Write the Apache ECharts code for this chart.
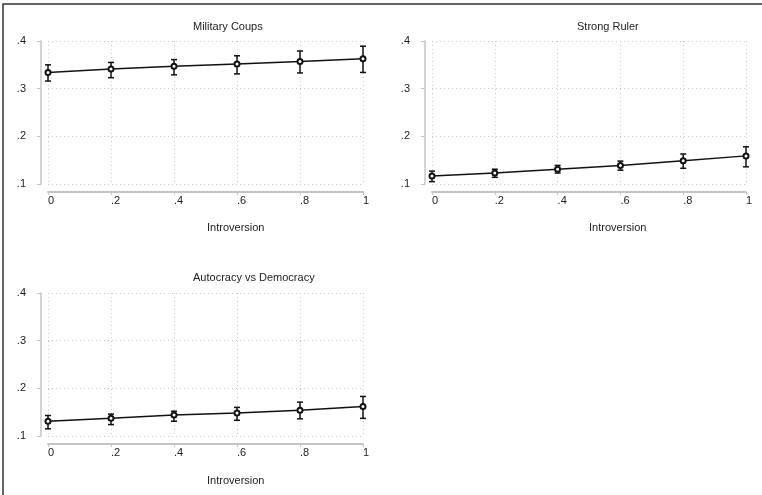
<!DOCTYPE html>
<html>
<head>
<meta charset="utf-8">
<script src="https://cdn.jsdelivr.net/npm/echarts@6/dist/echarts.min.js"></script>
<style>
    html, body { margin: 0; padding: 0; background: #fff; }
    #chart { width: 762px; height: 495px; }
</style>
</head>
<body>
<div id="chart"></div>
<script>
    const xValues = [0, 0.2, 0.4, 0.6, 0.8, 1]
    const xTickLabels = ['0', '.2', '.4', '.6', '.8', '1']
    const yTickLabels = ['.1', '.2', '.3', '.4']

    const panelTitles = ['Military Coups', 'Strong Ruler', 'Autocracy vs Democracy']

    // predicted value, lower and upper bound of the interval
    const coupsMean = [0.334, 0.341, 0.347, 0.352, 0.357, 0.363]
    const coupsLow = [0.316, 0.323, 0.329, 0.331, 0.333, 0.334]
    const coupsHigh = [0.350, 0.355, 0.361, 0.369, 0.379, 0.389]

    const rulerMean = [0.117, 0.123, 0.131, 0.139, 0.149, 0.159]
    const rulerLow = [0.105, 0.114, 0.123, 0.129, 0.133, 0.136]
    const rulerHigh = [0.127, 0.131, 0.139, 0.148, 0.163, 0.178]

    const autocMean = [0.131, 0.137, 0.144, 0.148, 0.154, 0.162]
    const autocLow = [0.115, 0.124, 0.131, 0.133, 0.136, 0.137]
    const autocHigh = [0.143, 0.146, 0.152, 0.160, 0.171, 0.183]

    const panels = [
        { mean: coupsMean, low: coupsLow, high: coupsHigh },
        { mean: rulerMean, low: rulerLow, high: rulerHigh },
        { mean: autocMean, low: autocLow, high: autocHigh }
    ]

    const font = 'Liberation Sans, Arial, sans-serif'
    const grids = [
        { left: 48, top: 41, width: 315, height: 143 },
        { left: 432, top: 41, width: 314, height: 143 },
        { left: 48, top: 293, width: 315, height: 143 }
    ]
    const titlePos = [[193, 21], [577, 21], [193, 272]]
    const namePos = [[207, 222], [589, 222], [207, 475]]

    function errorBar(params, api) {
        const top = api.coord([api.value(0), api.value(2)])
        const bot = api.coord([api.value(0), api.value(1)])
        const cap = 3
        const style = { stroke: '#111', lineWidth: 1.5 }
        return {
            type: 'group',
            children: [
                { type: 'line', shape: { x1: top[0], y1: top[1], x2: bot[0], y2: bot[1] }, style },
                { type: 'line', shape: { x1: top[0] - cap, y1: top[1], x2: top[0] + cap, y2: top[1] }, style },
                { type: 'line', shape: { x1: bot[0] - cap, y1: bot[1], x2: bot[0] + cap, y2: bot[1] }, style }
            ]
        }
    }

    const dotted = { show: true, lineStyle: { type: [1, 3], color: '#c8c8c8', width: 1 } }

    const option = {
        animation: false,
        textStyle: { fontFamily: font },
        title: [],
        grid: grids,
        xAxis: [],
        yAxis: [],
        series: [],
        graphic: [
            {
                type: 'rect',
                shape: { x: 3, y: 4, width: 900, height: 600 },
                style: { fill: 'none', stroke: '#333', lineWidth: 1.5 }
            }
        ]
    }

    panels.forEach((p, i) => {
        option.title.push({
            text: panelTitles[i],
            left: titlePos[i][0],
            top: titlePos[i][1],
            padding: 0,
            textStyle: { fontFamily: font, fontSize: 11, fontWeight: 'normal', color: '#222' }
        })
        option.title.push({
            text: 'Introversion',
            left: namePos[i][0],
            top: namePos[i][1],
            padding: 0,
            textStyle: { fontFamily: font, fontSize: 11, fontWeight: 'normal', color: '#222' }
        })

        option.xAxis.push({
            gridIndex: i,
            type: 'value',
            min: 0,
            max: 1,
            interval: 0.2,
            offset: 8,
            axisLine: { show: true, onZero: false, lineStyle: { color: '#c4c4c4', width: 2 } },
            axisTick: { show: true, length: 3, lineStyle: { color: '#c4c4c4' } },
            axisLabel: {
                formatter: (v, idx) => xTickLabels[idx],
                align: 'left',
                margin: 3,
                fontSize: 11,
                color: '#222',
                fontFamily: font
            },
            splitLine: dotted
        })
        option.yAxis.push({
            gridIndex: i,
            type: 'value',
            min: 0.1,
            max: 0.4,
            interval: 0.1,
            offset: 7,
            axisLine: { show: true, onZero: false, lineStyle: { color: '#c4c4c4', width: 1.5 } },
            axisTick: { show: true, length: 4, lineStyle: { color: '#c4c4c4' } },
            axisLabel: {
                formatter: (v, idx) => yTickLabels[idx],
                margin: 15,
                fontSize: 11,
                color: '#222',
                fontFamily: font
            },
            splitLine: dotted
        })

        option.series.push({
            type: 'custom',
            xAxisIndex: i,
            yAxisIndex: i,
            renderItem: errorBar,
            clip: false,
            z: 2,
            data: xValues.map((x, k) => [x, p.low[k], p.high[k]])
        })
        option.series.push({
            type: 'line',
            xAxisIndex: i,
            yAxisIndex: i,
            symbol: 'emptyCircle',
            symbolSize: 5,
            clip: false,
            z: 3,
            lineStyle: { color: '#111', width: 1.5 },
            itemStyle: { color: '#111', borderWidth: 1.2 },
            data: xValues.map((x, k) => [x, p.mean[k]])
        })
    })

    const chart = echarts.init(document.getElementById('chart'))
    chart.setOption(option)
</script>
</body>
</html>
